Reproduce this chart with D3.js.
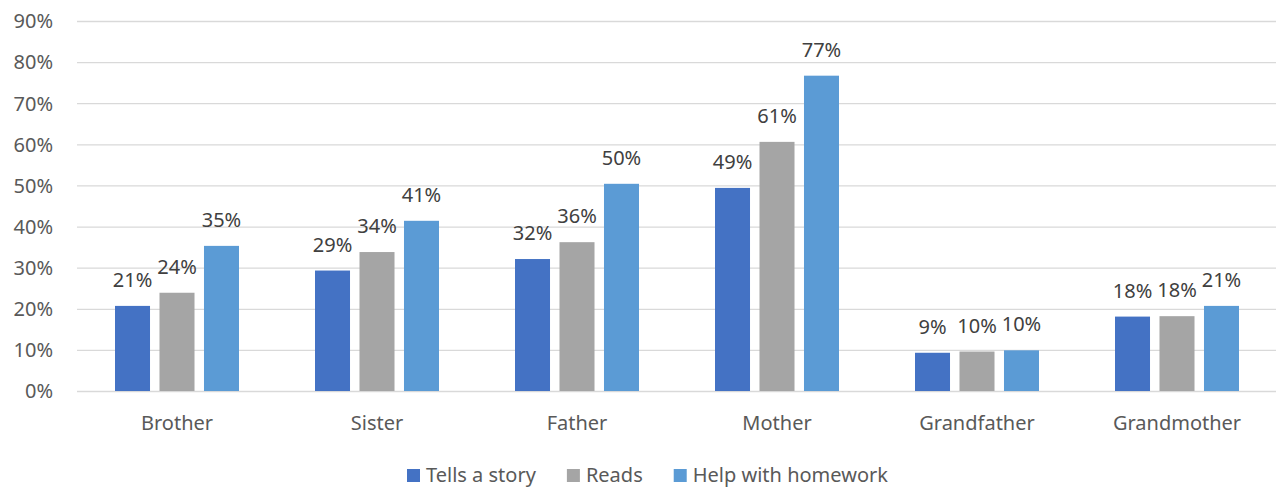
<!DOCTYPE html>
<html>
<head>
<meta charset="utf-8">
<script src="https://cdn.jsdelivr.net/npm/d3@7"></script>
<style>
  html, body { margin: 0; padding: 0; background: #fff; }
  svg text { font-family: "Noto Sans", "Open Sans", sans-serif; }
</style>
</head>
<body>
<svg id="chart" width="1276" height="487"></svg>
<script>
// Who in the family does each activity with the child
const categories = ["Brother", "Sister", "Father", "Mother", "Grandfather", "Grandmother"];
const seriesNames = ["Tells a story", "Reads", "Help with homework"];
const tellsStory = [0.207, 0.293, 0.321, 0.494, 0.093, 0.181];
const reads      = [0.239, 0.338, 0.362, 0.606, 0.096, 0.182];
const homework   = [0.353, 0.414, 0.504, 0.767, 0.099, 0.207];
const tickValues = [0, 0.1, 0.2, 0.3, 0.4, 0.5, 0.6, 0.7, 0.8, 0.9];
const colors = ["#4472C4", "#A5A5A5", "#5B9BD5"];

const series = [tellsStory, reads, homework];

const svg = d3.select("#chart");
const plot = { left: 77, right: 1277, top: 21, bottom: 391 };

const y = d3.scaleLinear().domain([0, 0.9]).range([plot.bottom, plot.top]);
const x0 = d3.scaleBand().domain(categories).range([plot.left, plot.right])
  .paddingInner(0.38).paddingOuter(0.19);
const x1 = d3.scaleBand().domain(seriesNames).range([0, x0.bandwidth()])
  .paddingInner(0.213).paddingOuter(0);
const color = d3.scaleOrdinal().domain(seriesNames).range(colors);
const pct = d3.format(".0%");

// Gridlines and value ticks
const yAxis = d3.axisLeft(y).tickValues(tickValues).tickFormat(pct)
  .tickSize(-(plot.right - plot.left)).tickPadding(24);
const gy = svg.append("g").attr("transform", `translate(${plot.left},0)`).call(yAxis);
gy.select(".domain").remove();
gy.selectAll(".tick line").attr("stroke", "#D9D9D9").attr("stroke-width", 1.3);
gy.selectAll(".tick text").attr("fill", "#595959").attr("font-size", 20)
  .attr("dy", "0.34em");

// Category axis labels
const xAxis = d3.axisBottom(x0).tickSize(0).tickPadding(25);
const gx = svg.append("g").attr("transform", `translate(0,${plot.bottom})`).call(xAxis);
gx.select(".domain").remove();
gx.selectAll(".tick text").attr("fill", "#595959").attr("font-size", 20);

// Bars
const rows = categories.map((c, i) => ({
  category: c,
  values: seriesNames.map((s, j) => ({ name: s, value: series[j][i] }))
}));

const groups = svg.append("g").selectAll("g").data(rows).join("g")
  .attr("transform", d => `translate(${x0(d.category)},0)`);

groups.selectAll("rect").data(d => d.values).join("rect")
  .attr("x", d => x1(d.name))
  .attr("width", x1.bandwidth())
  .attr("y", d => y(d.value))
  .attr("height", d => y(0) - y(d.value))
  .attr("fill", d => color(d.name));

groups.selectAll("text").data(d => d.values).join("text")
  .attr("x", d => x1(d.name) + x1.bandwidth() / 2)
  .attr("y", d => y(d.value) - 19)
  .attr("text-anchor", "middle")
  .attr("fill", "#404040")
  .attr("font-size", 20)
  .text(d => pct(d.value));

// Legend
const legend = svg.append("g").attr("transform", "translate(407,0)");
let lx = 0;
seriesNames.forEach(name => {
  const item = legend.append("g").attr("transform", `translate(${lx},0)`);
  item.append("rect").attr("x", 0).attr("y", 469).attr("width", 13).attr("height", 13)
    .attr("fill", color(name));
  const t = item.append("text").attr("x", 19).attr("y", 482)
    .attr("fill", "#595959").attr("font-size", 20).text(name);
  lx += 19 + t.node().getComputedTextLength() + 31;
});
</script>
</body>
</html>
